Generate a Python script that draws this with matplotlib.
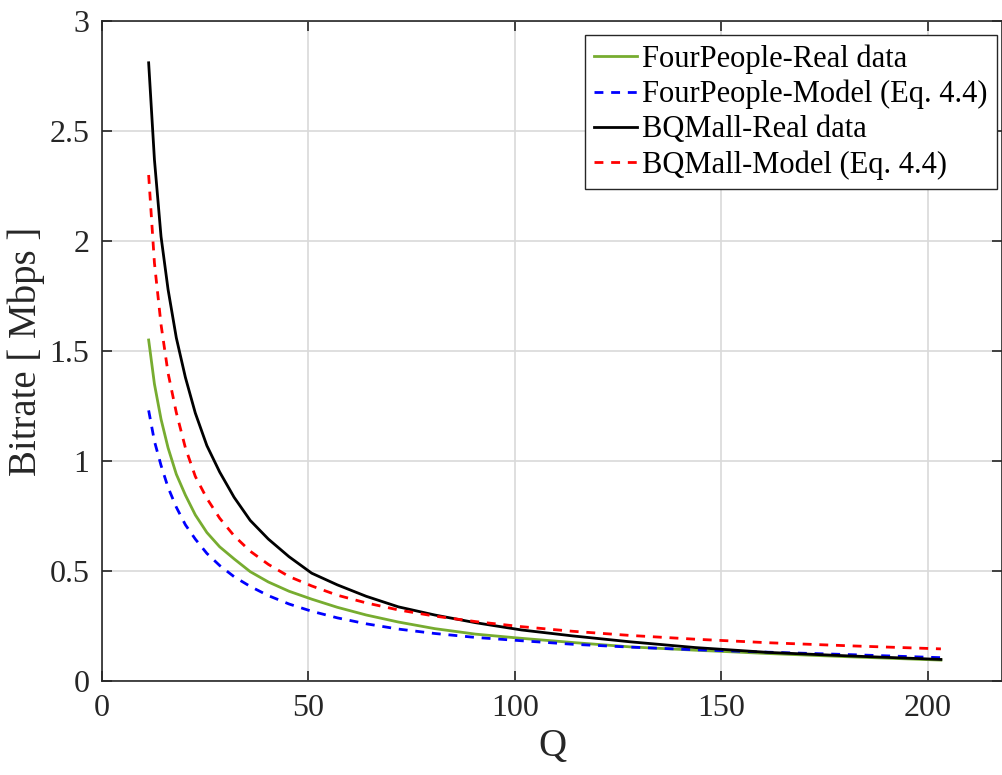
import matplotlib
matplotlib.use("Agg")
import matplotlib.pyplot as plt

# Quantization step values
q = [11.3, 12.7, 14.3, 16.0, 18.0, 20.2, 22.6, 25.4, 28.5, 32.0, 35.9, 40.3, 45.3,
     50.8, 57.0, 64.0, 71.8, 80.6, 90.5, 101.6, 114.0, 128.0, 143.7, 161.3, 181.0, 203.2]

fourpeople_real = [1.55, 1.35, 1.19, 1.06, 0.94, 0.845, 0.755, 0.675, 0.61, 0.555, 0.497,
                   0.45, 0.408, 0.372, 0.335, 0.30, 0.268, 0.238, 0.213, 0.194, 0.175,
                   0.155, 0.14, 0.125, 0.11, 0.095]
fourpeople_model = [1.23, 1.09, 0.98, 0.88, 0.79, 0.71, 0.645, 0.58, 0.525, 0.474, 0.43,
                    0.388, 0.35, 0.317, 0.287, 0.26, 0.236, 0.216, 0.198, 0.183, 0.167,
                    0.154, 0.142, 0.131, 0.12, 0.106]
bqmall_real = [2.81, 2.37, 2.02, 1.78, 1.56, 1.38, 1.218, 1.07, 0.95, 0.835, 0.73, 0.645,
               0.565, 0.49, 0.437, 0.385, 0.337, 0.30, 0.265, 0.232, 0.205, 0.178, 0.152,
               0.13, 0.114, 0.098]
bqmall_model = [2.30, 1.90, 1.62, 1.40, 1.22, 1.06, 0.93, 0.83, 0.74, 0.66, 0.59, 0.53,
                0.475, 0.432, 0.39, 0.355, 0.323, 0.295, 0.27, 0.247, 0.226, 0.207, 0.19,
                0.174, 0.16, 0.146]

labels = ["FourPeople-Real data", "FourPeople-Model (Eq. 4.4)",
          "BQMall-Real data", "BQMall-Model (Eq. 4.4)"]
xticks = [0, 50, 100, 150, 200]
yticks = [0, 0.5, 1, 1.5, 2, 2.5, 3]
yticklabels = ["0", "0.5", "1", "1.5", "2", "2.5", "3"]

plt.rcParams['font.family'] = ['Liberation Serif', 'DejaVu Serif']

fig = plt.figure(figsize=(10.03, 7.75), dpi=100)
ax = fig.add_axes([102 / 1003, 1 - 681 / 775, 900 / 1003, 660 / 775])

green = (0.466, 0.674, 0.188)
lw = 2.0
dash = (3.2, 2.8)
ax.plot(q, fourpeople_real, color=green, lw=lw, label=labels[0])
ax.plot(q, fourpeople_model, color=(0, 0, 1), lw=lw, dashes=dash, label=labels[1])
ax.plot(q, bqmall_real, color='black', lw=lw, label=labels[2])
ax.plot(q, bqmall_model, color=(1, 0, 0), lw=lw, dashes=dash, label=labels[3])

ax.set_xlim(0, 218)
ax.set_ylim(0, 3)
ax.set_xticks(xticks)
ax.set_xticklabels([str(t) for t in xticks])
ax.set_yticks(yticks)
ax.set_yticklabels(yticklabels)

ax.grid(True, color=(0.85, 0.85, 0.85), lw=1.2)
ax.set_axisbelow(True)
for s in ax.spines.values():
    s.set_color((0.15, 0.15, 0.15))
    s.set_linewidth(1.2)
ax.tick_params(direction='in', length=7, width=1.2, color=(0.15, 0.15, 0.15),
               labelsize=23, labelcolor=(0.15, 0.15, 0.15), top=True, right=True)
ax.tick_params(axis='y', pad=9)
ax.tick_params(axis='x', pad=9)

ax.set_xlabel("Q", fontsize=28, color=(0.15, 0.15, 0.15), labelpad=4)
ax.set_ylabel("Bitrate [ Mbps ]", fontsize=28, color=(0.15, 0.15, 0.15), labelpad=3)

leg = ax.legend(loc='upper right', bbox_to_anchor=(997 / 1003, 1 - 35 / 775),
                bbox_transform=fig.transFigure, borderaxespad=0, fontsize=22,
                handlelength=1.4, handletextpad=0.18, labelspacing=0.2,
                borderpad=0.3, fancybox=False, framealpha=1, edgecolor=(0.15, 0.15, 0.15))
leg.get_frame().set_linewidth(1.0)

fig.savefig("out.png", dpi=100)
